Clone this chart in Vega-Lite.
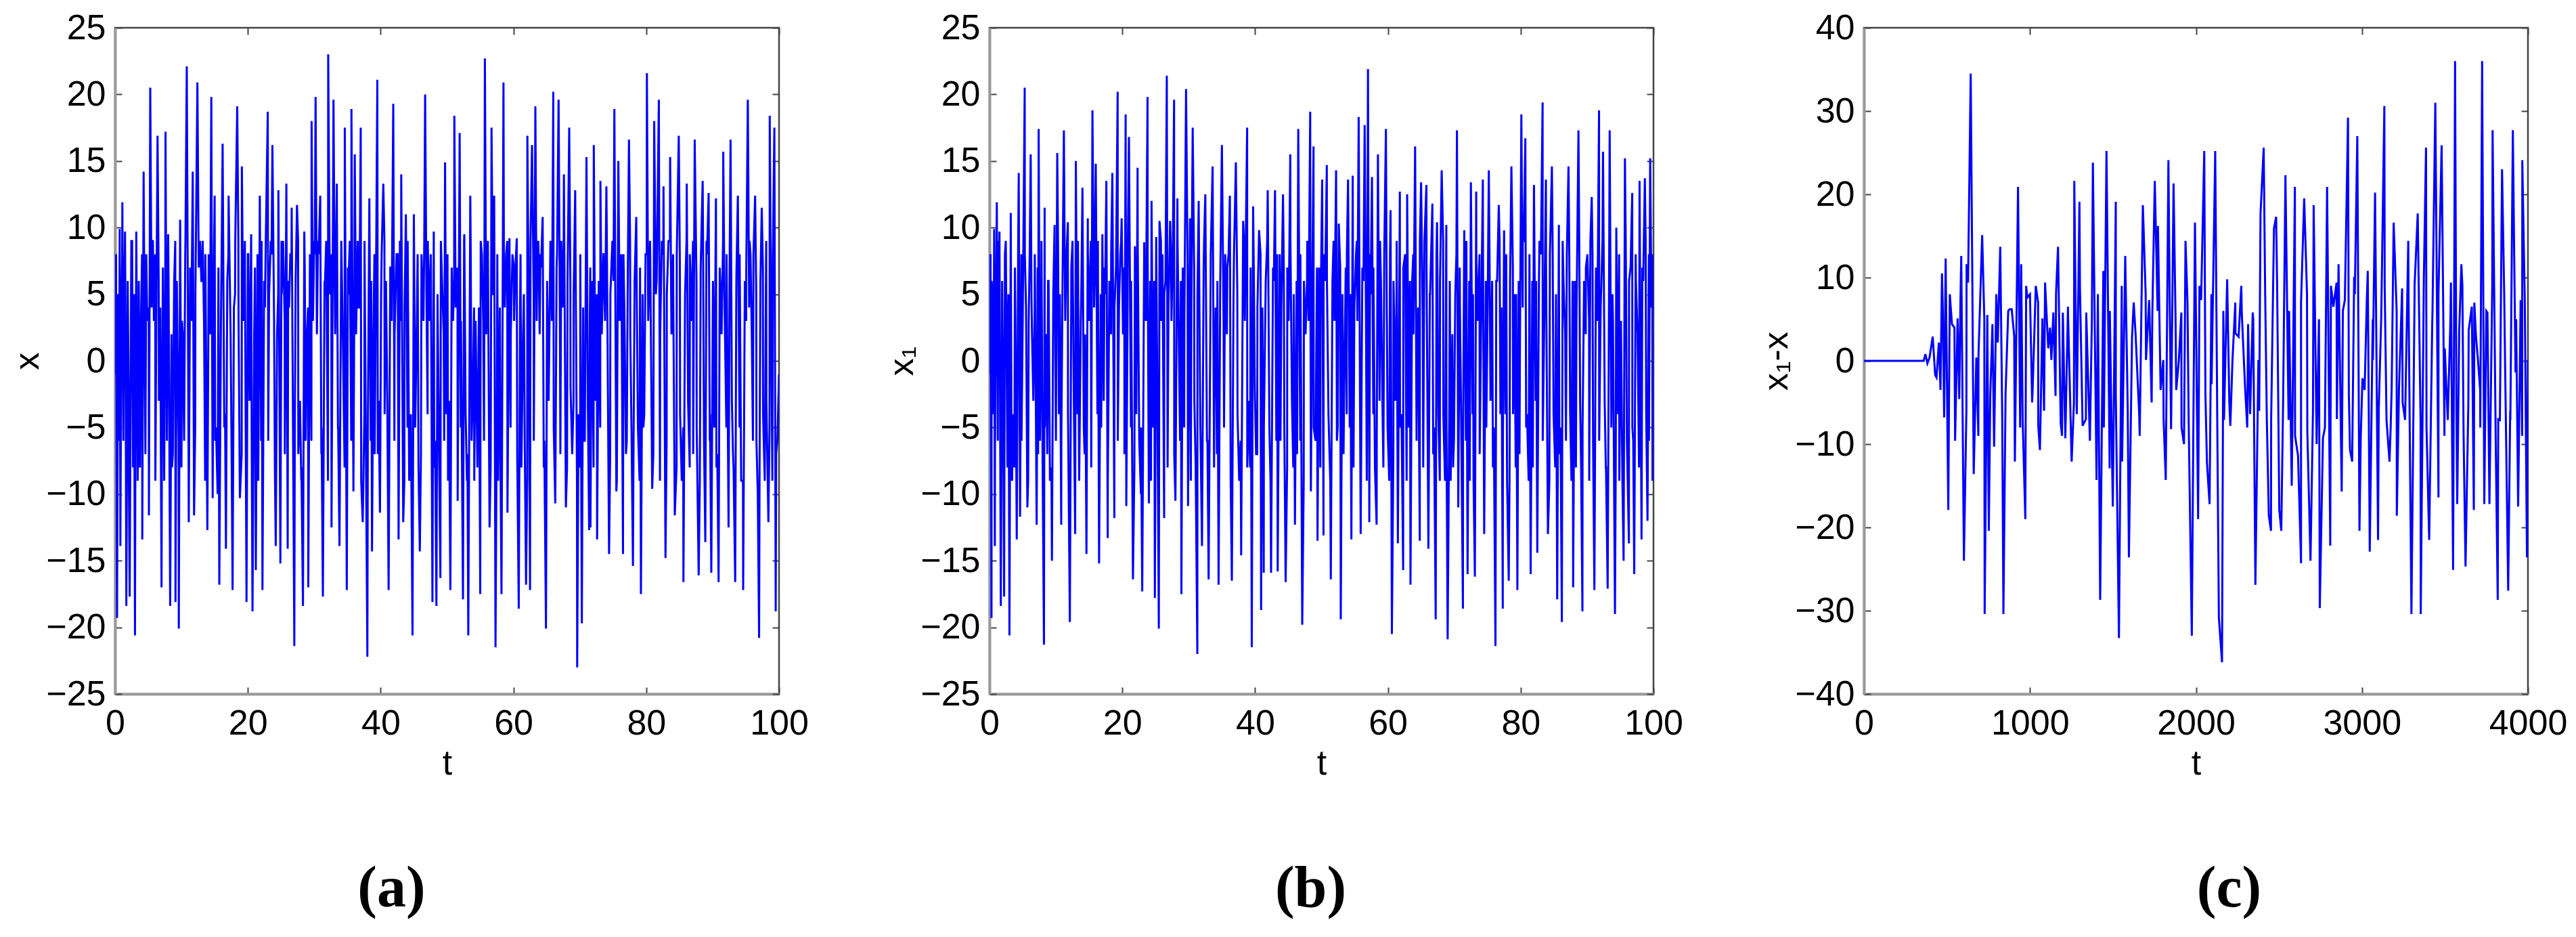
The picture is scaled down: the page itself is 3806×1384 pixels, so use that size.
{
"$schema":"https://vega.github.io/schema/vega-lite/v6.json",
"background":"white",
"padding":{"left":13,"top":13,"right":0,"bottom":0},
"spacing":311,
"bounds":"flush",
"config":{
 "view":{"stroke":"#444444","strokeWidth":2.5},
 "axis":{"grid":false,"labelFlush":false,"labelFont":"Liberation Sans","labelFontSize":52,"labelColor":"#000000","titleFont":"Liberation Sans","titleFontSize":52,"titleFontWeight":"normal","titleColor":"#000000","tickColor":"#444444","tickWidth":2,"tickSize":-10,"domainColor":"#999999","domainWidth":4},
 "title":{"font":"Liberation Serif","fontSize":86,"fontWeight":"bold","color":"#000000"}
},
"datasets":{
"a":[{"t":0,"v":-1},{"t":0.15,"v":8},{"t":0.3,"v":-19.3},{"t":0.45,"v":5},{"t":0.6,"v":-4},{"t":0.7,"v":9.9},{"t":0.8,"v":-13.9},{"t":0.95,"v":3},{"t":1.1,"v":11.9},{"t":1.25,"v":-6},{"t":1.35,"v":4},{"t":1.5,"v":9.7},{"t":1.7,"v":-18.4},{"t":1.9,"v":6},{"t":2.05,"v":-2},{"t":2.2,"v":-17.7},{"t":2.45,"v":9},{"t":2.7,"v":-8},{"t":2.85,"v":5},{"t":3,"v":-20.6},{"t":3.2,"v":9.7},{"t":3.4,"v":-9},{"t":3.55,"v":-4},{"t":3.75,"v":-8},{"t":3.9,"v":3},{"t":4.1,"v":-13.4},{"t":4.3,"v":14.2},{"t":4.5,"v":-2},{"t":4.7,"v":8},{"t":4.85,"v":3},{"t":5.1,"v":-11.6},{"t":5.3,"v":20.5},{"t":5.5,"v":4},{"t":5.7,"v":9},{"t":5.85,"v":3},{"t":6.05,"v":8},{"t":6.2,"v":2},{"t":6.4,"v":16.9},{"t":6.6,"v":-3},{"t":6.8,"v":4},{"t":7,"v":-17},{"t":7.2,"v":7},{"t":7.4,"v":-9},{"t":7.6,"v":17.2},{"t":7.8,"v":-6},{"t":8,"v":9.5},{"t":8.3,"v":-18.4},{"t":8.5,"v":2},{"t":8.7,"v":-7},{"t":8.9,"v":6},{"t":9.1,"v":-18.1},{"t":9.3,"v":6},{"t":9.6,"v":-20.1},{"t":9.8,"v":10.6},{"t":10,"v":-8},{"t":10.2,"v":2},{"t":10.4,"v":-6},{"t":10.6,"v":9},{"t":10.8,"v":22.1},{"t":11.1,"v":-12.1},{"t":11.3,"v":7},{"t":11.5,"v":3},{"t":11.7,"v":14.2},{"t":11.9,"v":-11.6},{"t":12.1,"v":5},{"t":12.4,"v":20.9},{"t":12.6,"v":7},{"t":12.8,"v":9},{"t":13,"v":6},{"t":13.2,"v":9},{"t":13.4,"v":3},{"t":13.6,"v":8},{"t":13.9,"v":-12.7},{"t":14.1,"v":8},{"t":14.3,"v":2},{"t":14.5,"v":19.8},{"t":14.7,"v":-10.3},{"t":14.85,"v":6},{"t":15,"v":12.4},{"t":15.2,"v":-5},{"t":15.45,"v":-10},{"t":15.7,"v":-16.8},{"t":15.95,"v":3},{"t":16.2,"v":16.3},{"t":16.45,"v":-5},{"t":16.7,"v":-14.1},{"t":16.9,"v":6},{"t":17.1,"v":12.4},{"t":17.4,"v":2},{"t":17.7,"v":-17.2},{"t":17.9,"v":4},{"t":18.1,"v":9},{"t":18.4,"v":19.1},{"t":18.6,"v":3},{"t":18.8,"v":-10.3},{"t":19.1,"v":14.6},{"t":19.3,"v":3},{"t":19.55,"v":9},{"t":19.8,"v":-18.1},{"t":20,"v":8},{"t":20.25,"v":-3},{"t":20.5,"v":9.5},{"t":20.7,"v":-18.8},{"t":20.95,"v":2},{"t":21.2,"v":-15.7},{"t":21.45,"v":8},{"t":21.8,"v":12.4},{"t":22,"v":-6},{"t":22.2,"v":-17.2},{"t":22.45,"v":6},{"t":22.7,"v":9},{"t":23,"v":18.7},{"t":23.2,"v":5},{"t":23.45,"v":9},{"t":23.7,"v":16.2},{"t":23.95,"v":3},{"t":24.2,"v":-13.9},{"t":24.4,"v":2},{"t":24.6,"v":12.8},{"t":24.9,"v":-15.2},{"t":25.1,"v":5},{"t":25.3,"v":9},{"t":25.55,"v":3},{"t":25.8,"v":13.3},{"t":26,"v":-14.1},{"t":26.2,"v":4},{"t":26.4,"v":8},{"t":26.6,"v":11.5},{"t":26.8,"v":-5},{"t":27,"v":-21.4},{"t":27.2,"v":6},{"t":27.4,"v":11.7},{"t":27.6,"v":-7},{"t":27.85,"v":-3},{"t":28.05,"v":-9},{"t":28.3,"v":-18.4},{"t":28.5,"v":9.7},{"t":28.7,"v":-6},{"t":28.9,"v":2},{"t":29.1,"v":-17},{"t":29.35,"v":8},{"t":29.6,"v":18},{"t":29.8,"v":3},{"t":30,"v":9},{"t":30.2,"v":19.8},{"t":30.4,"v":2},{"t":30.65,"v":8},{"t":30.9,"v":12.4},{"t":31.1,"v":-5},{"t":31.3,"v":-17.7},{"t":31.55,"v":6},{"t":31.8,"v":9},{"t":32.1,"v":23},{"t":32.35,"v":5},{"t":32.6,"v":-12.5},{"t":32.9,"v":19.6},{"t":33.15,"v":2},{"t":33.4,"v":13.3},{"t":33.6,"v":-5},{"t":33.8,"v":-13.9},{"t":34.05,"v":7},{"t":34.3,"v":2},{"t":34.6,"v":17.5},{"t":34.9,"v":-17.2},{"t":35.1,"v":5},{"t":35.35,"v":9},{"t":35.6,"v":18.9},{"t":35.9,"v":-9.8},{"t":36.1,"v":15.5},{"t":36.3,"v":2},{"t":36.55,"v":9},{"t":36.8,"v":4},{"t":37,"v":17.5},{"t":37.3,"v":-12.1},{"t":37.55,"v":-4},{"t":37.8,"v":-8},{"t":38,"v":-22.2},{"t":38.3,"v":12.2},{"t":38.5,"v":-6},{"t":38.7,"v":-14.3},{"t":38.9,"v":2},{"t":39.1,"v":-7},{"t":39.3,"v":6},{"t":39.5,"v":21.1},{"t":39.7,"v":-3},{"t":39.9,"v":-11.4},{"t":40.15,"v":8},{"t":40.4,"v":13.3},{"t":40.6,"v":-4},{"t":40.8,"v":6},{"t":41,"v":-3},{"t":41.2,"v":-17.2},{"t":41.45,"v":7},{"t":41.65,"v":3},{"t":41.9,"v":19.3},{"t":42.1,"v":2},{"t":42.4,"v":8},{"t":42.7,"v":-13.4},{"t":42.9,"v":9},{"t":43.1,"v":14},{"t":43.4,"v":-12.1},{"t":43.6,"v":4},{"t":43.8,"v":11},{"t":44.05,"v":-5},{"t":44.3,"v":-9},{"t":44.55,"v":-4},{"t":44.8,"v":-20.6},{"t":45,"v":11},{"t":45.2,"v":-5},{"t":45.45,"v":3},{"t":45.7,"v":-8},{"t":45.9,"v":-14.3},{"t":46.15,"v":8},{"t":46.45,"v":3},{"t":46.7,"v":20},{"t":46.9,"v":5},{"t":47.1,"v":9},{"t":47.3,"v":3},{"t":47.55,"v":8},{"t":47.8,"v":-18.1},{"t":48,"v":9.7},{"t":48.2,"v":-6},{"t":48.4,"v":-18.4},{"t":48.6,"v":3},{"t":48.8,"v":-7},{"t":49,"v":-16.3},{"t":49.25,"v":6},{"t":49.5,"v":2},{"t":49.7,"v":14.9},{"t":49.9,"v":-4},{"t":50.15,"v":-9},{"t":50.3,"v":-3},{"t":50.5,"v":-17.2},{"t":50.7,"v":7},{"t":50.9,"v":3},{"t":51.1,"v":18.4},{"t":51.3,"v":4},{"t":51.6,"v":-10.5},{"t":51.9,"v":17.1},{"t":52.1,"v":3},{"t":52.4,"v":-17.9},{"t":52.6,"v":9.5},{"t":52.8,"v":-4},{"t":53,"v":-9},{"t":53.2,"v":-20.6},{"t":53.5,"v":12.4},{"t":53.7,"v":-6},{"t":53.9,"v":-2},{"t":54.1,"v":-9},{"t":54.3,"v":3},{"t":54.55,"v":-7},{"t":54.8,"v":4},{"t":55,"v":-17.5},{"t":55.25,"v":8},{"t":55.45,"v":3},{"t":55.7,"v":22.7},{"t":55.9,"v":2},{"t":56.15,"v":9},{"t":56.4,"v":-12.5},{"t":56.7,"v":17.5},{"t":56.9,"v":5},{"t":57.1,"v":12.4},{"t":57.3,"v":-21.5},{"t":57.5,"v":-3},{"t":57.7,"v":-9},{"t":57.95,"v":4},{"t":58.2,"v":-17.5},{"t":58.5,"v":20.9},{"t":58.7,"v":4},{"t":58.9,"v":8},{"t":59.1,"v":-11.4},{"t":59.4,"v":9.2},{"t":59.6,"v":2},{"t":59.85,"v":8},{"t":60.1,"v":3},{"t":60.3,"v":7},{"t":60.5,"v":9.2},{"t":60.8,"v":-18.6},{"t":61,"v":4},{"t":61.2,"v":-8},{"t":61.45,"v":2},{"t":61.7,"v":-6},{"t":61.9,"v":-16.8},{"t":62.1,"v":16.9},{"t":62.3,"v":4},{"t":62.5,"v":-17.2},{"t":62.8,"v":16.2},{"t":63.05,"v":5},{"t":63.3,"v":19.1},{"t":63.5,"v":3},{"t":63.75,"v":9},{"t":63.95,"v":2},{"t":64.15,"v":7},{"t":64.4,"v":10.8},{"t":64.65,"v":-6},{"t":64.9,"v":-20.1},{"t":65.1,"v":5},{"t":65.3,"v":-3},{"t":65.55,"v":8},{"t":65.8,"v":3},{"t":66,"v":20.2},{"t":66.3,"v":-10.7},{"t":66.5,"v":7},{"t":66.8,"v":19.6},{"t":67,"v":3},{"t":67.2,"v":9},{"t":67.4,"v":4},{"t":67.6,"v":14},{"t":67.9,"v":-11},{"t":68.15,"v":6},{"t":68.4,"v":17.5},{"t":68.6,"v":-2},{"t":68.85,"v":-7},{"t":69.05,"v":-3},{"t":69.3,"v":12.8},{"t":69.6,"v":-23},{"t":69.8,"v":-4},{"t":70.05,"v":-8},{"t":70.3,"v":-19.7},{"t":70.5,"v":4},{"t":70.75,"v":-6},{"t":71,"v":15.3},{"t":71.2,"v":-3},{"t":71.4,"v":-12.7},{"t":71.5,"v":3},{"t":71.6,"v":-12.5},{"t":71.8,"v":6},{"t":72.1,"v":16.2},{"t":72.35,"v":-3},{"t":72.6,"v":-13.4},{"t":72.85,"v":6},{"t":73.1,"v":13.5},{"t":73.3,"v":2},{"t":73.55,"v":8},{"t":73.8,"v":3},{"t":74,"v":13.1},{"t":74.4,"v":-14.5},{"t":74.6,"v":5},{"t":74.9,"v":9},{"t":75.2,"v":18.9},{"t":75.5,"v":-9.8},{"t":75.8,"v":15},{"t":76,"v":3},{"t":76.25,"v":8},{"t":76.5,"v":-14.5},{"t":76.7,"v":4},{"t":76.95,"v":-7},{"t":77.2,"v":5},{"t":77.4,"v":16.6},{"t":77.6,"v":2},{"t":77.8,"v":-6},{"t":78,"v":-15.4},{"t":78.25,"v":6},{"t":78.5,"v":10.8},{"t":78.75,"v":-5},{"t":79,"v":-9},{"t":79.2,"v":-17.5},{"t":79.45,"v":5},{"t":79.7,"v":-4},{"t":79.9,"v":8},{"t":80.1,"v":21.6},{"t":80.3,"v":3},{"t":80.6,"v":8},{"t":80.9,"v":-9.6},{"t":81.2,"v":18},{"t":81.45,"v":5},{"t":81.65,"v":9},{"t":81.9,"v":19.6},{"t":82.1,"v":2},{"t":82.35,"v":9},{"t":82.6,"v":13.1},{"t":82.9,"v":-14.8},{"t":83.1,"v":5},{"t":83.35,"v":9},{"t":83.6,"v":15.3},{"t":83.8,"v":2},{"t":84.05,"v":8},{"t":84.3,"v":-11.6},{"t":84.6,"v":8},{"t":84.9,"v":16.9},{"t":85.1,"v":-4},{"t":85.35,"v":-9},{"t":85.6,"v":-16.6},{"t":85.85,"v":5},{"t":86.1,"v":13.3},{"t":86.3,"v":-3},{"t":86.55,"v":-8},{"t":86.8,"v":3},{"t":87.05,"v":9},{"t":87.3,"v":16.6},{"t":87.6,"v":-5},{"t":87.9,"v":-16.1},{"t":88.2,"v":7},{"t":88.5,"v":13.5},{"t":88.7,"v":-6},{"t":88.9,"v":-13.6},{"t":89.15,"v":8},{"t":89.4,"v":12.6},{"t":89.6,"v":-4},{"t":89.8,"v":-15.9},{"t":90.05,"v":6},{"t":90.25,"v":-5},{"t":90.5,"v":12.2},{"t":90.7,"v":-7},{"t":90.9,"v":-16.6},{"t":91.15,"v":6},{"t":91.35,"v":2},{"t":91.6,"v":15.7},{"t":91.8,"v":4},{"t":92.1,"v":8},{"t":92.4,"v":-12.5},{"t":92.7,"v":16.6},{"t":92.9,"v":-3},{"t":93.15,"v":-8},{"t":93.4,"v":-16.6},{"t":93.6,"v":7},{"t":93.8,"v":12.4},{"t":94.05,"v":-5},{"t":94.3,"v":-9},{"t":94.6,"v":-17.2},{"t":94.85,"v":6},{"t":95.05,"v":3},{"t":95.3,"v":19.6},{"t":95.5,"v":4},{"t":95.7,"v":8},{"t":95.9,"v":2},{"t":96.15,"v":8},{"t":96.4,"v":12.4},{"t":96.6,"v":-6},{"t":96.8,"v":-10},{"t":97,"v":-20.8},{"t":97.2,"v":6},{"t":97.4,"v":11.5},{"t":97.6,"v":-4},{"t":97.85,"v":-9},{"t":98.1,"v":-3},{"t":98.4,"v":-12.1},{"t":98.6,"v":18.4},{"t":98.8,"v":4},{"t":99,"v":-9},{"t":99.3,"v":17.5},{"t":99.5,"v":-18.8},{"t":99.75,"v":-6},{"t":100,"v":-1},
{"t":0.07,"v":7},{"t":0.57,"v":-6},{"t":1.07,"v":8},{"t":1.57,"v":3},{"t":2.07,"v":-8},{"t":2.57,"v":9},{"t":3.07,"v":-5},{"t":3.57,"v":6},{"t":4.07,"v":8},{"t":4.57,"v":-7},{"t":5.07,"v":4},{"t":5.57,"v":9},{"t":6.07,"v":-9},{"t":6.57,"v":6},{"t":7.07,"v":-4},{"t":7.57,"v":8},{"t":8.07,"v":5},{"t":8.57,"v":-8},{"t":9.07,"v":9},{"t":9.57,"v":-6},{"t":10.07,"v":3},{"t":10.57,"v":8},{"t":11.07,"v":-7},{"t":11.57,"v":7},{"t":12.07,"v":-5},{"t":12.57,"v":9},{"t":13.07,"v":6},{"t":13.57,"v":-9},{"t":14.07,"v":4},{"t":14.57,"v":8},{"t":15.07,"v":-6},{"t":15.57,"v":7},{"t":16.07,"v":9},{"t":16.57,"v":-4},{"t":17.07,"v":8},{"t":17.57,"v":-8},{"t":18.07,"v":5},{"t":18.57,"v":9},{"t":19.07,"v":-7},{"t":19.57,"v":6},{"t":20.07,"v":8},{"t":20.57,"v":-5},{"t":21.07,"v":7},{"t":21.57,"v":-9},{"t":22.07,"v":9},{"t":22.57,"v":4},{"t":23.07,"v":-6},{"t":23.57,"v":8},{"t":24.07,"v":-8},{"t":24.57,"v":5},{"t":25.07,"v":9},{"t":25.57,"v":-7},{"t":26.07,"v":6},{"t":26.57,"v":8},{"t":27.07,"v":-5},{"t":27.57,"v":9},{"t":28.07,"v":-8},{"t":28.57,"v":7},{"t":29.07,"v":4},{"t":29.57,"v":-6},{"t":30.07,"v":8},{"t":30.57,"v":9},{"t":31.07,"v":-7},{"t":31.57,"v":5},{"t":32.07,"v":-9},{"t":32.57,"v":8},{"t":33.07,"v":6},{"t":33.57,"v":-5},{"t":34.07,"v":9},{"t":34.57,"v":-8},{"t":35.07,"v":7},{"t":35.57,"v":-6},{"t":36.07,"v":8},{"t":36.57,"v":4},{"t":37.07,"v":-9},{"t":37.57,"v":9},{"t":38.07,"v":-5},{"t":38.57,"v":6},{"t":39.07,"v":8},{"t":39.57,"v":-7},{"t":40.07,"v":5},{"t":40.57,"v":9},{"t":41.07,"v":-8},{"t":41.57,"v":7},{"t":42.07,"v":-6},{"t":42.57,"v":8},{"t":43.07,"v":3},{"t":43.57,"v":-9},{"t":44.07,"v":9},{"t":44.57,"v":-5},{"t":45.07,"v":6},{"t":45.57,"v":8},{"t":46.07,"v":-7},{"t":46.57,"v":9},{"t":47.07,"v":-4},{"t":47.57,"v":7},{"t":48.07,"v":-8},{"t":48.57,"v":5},{"t":49.07,"v":9},{"t":49.57,"v":-6},{"t":50.07,"v":8},{"t":50.57,"v":-9},{"t":51.07,"v":6},{"t":51.57,"v":7},{"t":52.07,"v":-5},{"t":52.57,"v":9},{"t":53.07,"v":-7},{"t":53.57,"v":8},{"t":54.07,"v":4},{"t":54.57,"v":-8},{"t":55.07,"v":9},{"t":55.57,"v":-6},{"t":56.07,"v":7},{"t":56.57,"v":-8},{"t":57.07,"v":5},{"t":57.57,"v":8},{"t":58.07,"v":-9},{"t":58.57,"v":6},{"t":59.07,"v":9},{"t":59.57,"v":-5},{"t":60.07,"v":7},{"t":60.57,"v":-7},{"t":61.07,"v":8},{"t":61.57,"v":5},{"t":62.07,"v":-9},{"t":62.57,"v":9},{"t":63.07,"v":-6},{"t":63.57,"v":7},{"t":64.07,"v":8},{"t":64.57,"v":-8},{"t":65.07,"v":6},{"t":65.57,"v":9},{"t":66.07,"v":-5},{"t":66.57,"v":8},{"t":67.07,"v":-7},{"t":67.57,"v":9},{"t":68.07,"v":-8},{"t":68.57,"v":6},{"t":69.07,"v":5},{"t":69.57,"v":-9},{"t":70.07,"v":8},{"t":70.57,"v":-6},{"t":71.07,"v":9},{"t":71.57,"v":7},{"t":72.07,"v":-8},{"t":72.57,"v":5},{"t":73.07,"v":-5},{"t":73.57,"v":8},{"t":74.07,"v":9},{"t":74.57,"v":-7},{"t":75.07,"v":6},{"t":75.57,"v":-9},{"t":76.07,"v":7},{"t":76.57,"v":8},{"t":77.07,"v":-6},{"t":77.57,"v":9},{"t":78.07,"v":-8},{"t":78.57,"v":5},{"t":79.07,"v":7},{"t":79.57,"v":-5},{"t":80.07,"v":8},{"t":80.57,"v":9},{"t":81.07,"v":-7},{"t":81.57,"v":6},{"t":82.07,"v":-9},{"t":82.57,"v":8},{"t":83.07,"v":-6},{"t":83.57,"v":9},{"t":84.07,"v":5},{"t":84.57,"v":-8},{"t":85.07,"v":7},{"t":85.57,"v":-5},{"t":86.07,"v":9},{"t":86.57,"v":8},{"t":87.07,"v":-7},{"t":87.57,"v":6},{"t":88.07,"v":-9},{"t":88.57,"v":8},{"t":89.07,"v":9},{"t":89.57,"v":-6},{"t":90.07,"v":5},{"t":90.57,"v":-8},{"t":91.07,"v":7},{"t":91.57,"v":9},{"t":92.07,"v":-5},{"t":92.57,"v":8},{"t":93.07,"v":-7},{"t":93.57,"v":6},{"t":94.07,"v":8},{"t":94.57,"v":-9},{"t":95.07,"v":7},{"t":95.57,"v":9},{"t":96.07,"v":-6},{"t":96.57,"v":5},{"t":97.07,"v":-8},{"t":97.57,"v":7},{"t":98.07,"v":9},{"t":98.57,"v":-5},{"t":99.07,"v":8},{"t":99.57,"v":-7}],
"b":[{"t":0,"v":-1},{"t":0.15,"v":8},{"t":0.3,"v":-19.3},{"t":0.45,"v":5},{"t":0.6,"v":-4},{"t":0.7,"v":9.9},{"t":0.8,"v":-13.9},{"t":0.95,"v":3},{"t":1.1,"v":11.9},{"t":1.25,"v":-6},{"t":1.35,"v":4},{"t":1.5,"v":9.7},{"t":1.7,"v":-18.4},{"t":1.9,"v":6},{"t":2.05,"v":-2},{"t":2.2,"v":-17.7},{"t":2.45,"v":9},{"t":2.7,"v":-8},{"t":2.85,"v":5},{"t":3,"v":-20.6},{"t":3.2,"v":11.1},{"t":3.4,"v":-9},{"t":3.55,"v":-4},{"t":3.75,"v":-8},{"t":3.9,"v":3},{"t":4.1,"v":-13.4},{"t":4.4,"v":14.1},{"t":4.6,"v":-11.7},{"t":4.8,"v":8},{"t":5,"v":3},{"t":5.3,"v":20.5},{"t":5.5,"v":4},{"t":5.7,"v":-11},{"t":5.9,"v":3},{"t":6.05,"v":8},{"t":6.2,"v":15.5},{"t":6.4,"v":2},{"t":6.6,"v":-3},{"t":6.8,"v":4},{"t":7.1,"v":-12.3},{"t":7.25,"v":7},{"t":7.4,"v":17.4},{"t":7.6,"v":-6},{"t":7.8,"v":4},{"t":8,"v":-8},{"t":8.2,"v":-21.3},{"t":8.3,"v":11.5},{"t":8.5,"v":2},{"t":8.7,"v":-7},{"t":8.9,"v":6},{"t":9.1,"v":-9},{"t":9.4,"v":-15},{"t":9.6,"v":5},{"t":9.8,"v":10.2},{"t":10,"v":-6},{"t":10.2,"v":15.6},{"t":10.45,"v":-4},{"t":10.6,"v":5},{"t":10.8,"v":-12.3},{"t":11,"v":6},{"t":11.2,"v":17.3},{"t":11.4,"v":3},{"t":11.6,"v":8},{"t":11.8,"v":10.4},{"t":12.1,"v":-19.6},{"t":12.3,"v":4},{"t":12.5,"v":9},{"t":12.7,"v":-3},{"t":12.9,"v":-13},{"t":13,"v":15},{"t":13.25,"v":-4},{"t":13.5,"v":-9},{"t":13.75,"v":3},{"t":14,"v":13},{"t":14.2,"v":-5},{"t":14.4,"v":2},{"t":14.6,"v":-14.5},{"t":14.8,"v":10.7},{"t":15,"v":3},{"t":15.25,"v":9},{"t":15.5,"v":18.8},{"t":15.75,"v":4},{"t":16,"v":14.8},{"t":16.25,"v":-4},{"t":16.5,"v":-15.2},{"t":16.75,"v":5},{"t":17,"v":9.5},{"t":17.2,"v":-3},{"t":17.4,"v":5},{"t":17.6,"v":13.5},{"t":17.8,"v":-13.3},{"t":18.05,"v":6},{"t":18.3,"v":2},{"t":18.5,"v":14.1},{"t":18.8,"v":-11.8},{"t":19.05,"v":7},{"t":19.3,"v":20.2},{"t":19.5,"v":4},{"t":19.7,"v":8},{"t":19.9,"v":10.7},{"t":20.1,"v":2},{"t":20.3,"v":7},{"t":20.5,"v":18.5},{"t":20.6,"v":-10.9},{"t":20.8,"v":4},{"t":21,"v":16.8},{"t":21.3,"v":-5},{"t":21.6,"v":-16.4},{"t":21.9,"v":8.6},{"t":22.1,"v":-4},{"t":22.3,"v":14.5},{"t":22.55,"v":-6},{"t":22.8,"v":-10},{"t":23,"v":-17.3},{"t":23.3,"v":8.9},{"t":23.55,"v":3},{"t":23.8,"v":19.8},{"t":24,"v":-10.7},{"t":24.2,"v":6},{"t":24.4,"v":12},{"t":24.65,"v":-5},{"t":24.9,"v":-17.8},{"t":25.1,"v":9.3},{"t":25.3,"v":-4},{"t":25.5,"v":-20.1},{"t":25.6,"v":10.5},{"t":25.85,"v":3},{"t":26.05,"v":8},{"t":26.3,"v":-11.8},{"t":26.5,"v":6},{"t":26.7,"v":21.4},{"t":26.95,"v":4},{"t":27.2,"v":10.5},{"t":27.4,"v":3},{"t":27.6,"v":8},{"t":27.8,"v":19.6},{"t":28,"v":-10.5},{"t":28.3,"v":12.2},{"t":28.5,"v":2},{"t":28.7,"v":-6},{"t":28.9,"v":-17.5},{"t":29.1,"v":7},{"t":29.35,"v":3},{"t":29.6,"v":20.4},{"t":29.9,"v":-10.9},{"t":30.2,"v":10.7},{"t":30.4,"v":4},{"t":30.6,"v":17.5},{"t":30.85,"v":-3},{"t":31.05,"v":-8},{"t":31.3,"v":-22},{"t":31.5,"v":12},{"t":31.75,"v":-5},{"t":32,"v":-13.9},{"t":32.25,"v":7},{"t":32.5,"v":12.5},{"t":32.75,"v":-6},{"t":33,"v":-16.4},{"t":33.3,"v":6},{"t":33.6,"v":14.6},{"t":33.85,"v":-3},{"t":34.05,"v":4},{"t":34.25,"v":-7},{"t":34.5,"v":-16.8},{"t":34.75,"v":6},{"t":35,"v":16.2},{"t":35.25,"v":3},{"t":35.5,"v":8},{"t":35.75,"v":2},{"t":36,"v":8},{"t":36.2,"v":12.4},{"t":36.5,"v":-16.5},{"t":36.75,"v":5},{"t":37.1,"v":14.9},{"t":37.35,"v":-4},{"t":37.6,"v":-9},{"t":37.9,"v":-14.6},{"t":38.2,"v":10.5},{"t":38.45,"v":3},{"t":38.8,"v":17.5},{"t":39.05,"v":-3},{"t":39.25,"v":-8},{"t":39.5,"v":-21.5},{"t":39.7,"v":11.6},{"t":39.95,"v":-2},{"t":40.15,"v":-7},{"t":40.35,"v":4},{"t":40.6,"v":9.8},{"t":40.9,"v":-18.7},{"t":41.1,"v":4},{"t":41.3,"v":-15.9},{"t":41.6,"v":6},{"t":41.9,"v":12.8},{"t":42.15,"v":-5},{"t":42.4,"v":-15.9},{"t":42.7,"v":7},{"t":43,"v":12.8},{"t":43.2,"v":-6},{"t":43.4,"v":-15.8},{"t":43.7,"v":8},{"t":43.95,"v":4},{"t":44.2,"v":12.5},{"t":44.4,"v":-5},{"t":44.6,"v":-16.6},{"t":44.85,"v":7},{"t":45.05,"v":3},{"t":45.3,"v":15.5},{"t":45.55,"v":-3},{"t":45.75,"v":-8},{"t":46,"v":-12.3},{"t":46.25,"v":6},{"t":46.5,"v":17.4},{"t":46.8,"v":-6},{"t":47.1,"v":-19.8},{"t":47.35,"v":6},{"t":47.6,"v":2},{"t":47.85,"v":9},{"t":48.05,"v":3},{"t":48.3,"v":18.7},{"t":48.4,"v":-9.8},{"t":48.6,"v":5},{"t":48.8,"v":16.1},{"t":49.1,"v":-6},{"t":49.4,"v":-13.5},{"t":49.65,"v":7},{"t":49.85,"v":3},{"t":50.1,"v":13.6},{"t":50.3,"v":-13.1},{"t":50.55,"v":6},{"t":50.8,"v":14.7},{"t":51.05,"v":-4},{"t":51.4,"v":-16.4},{"t":51.65,"v":6},{"t":51.95,"v":3},{"t":52.2,"v":14.3},{"t":52.45,"v":-5},{"t":52.6,"v":10.3},{"t":52.9,"v":-19.4},{"t":53.15,"v":5},{"t":53.4,"v":-3},{"t":53.65,"v":7},{"t":53.8,"v":-4},{"t":54,"v":13.6},{"t":54.25,"v":-5},{"t":54.5,"v":-13.4},{"t":54.7,"v":13.9},{"t":54.95,"v":4},{"t":55.2,"v":8},{"t":55.4,"v":3},{"t":55.6,"v":18.3},{"t":55.9,"v":-13},{"t":56.15,"v":7},{"t":56.5,"v":17.7},{"t":56.7,"v":3},{"t":57,"v":21.9},{"t":57.2,"v":-12.1},{"t":57.4,"v":5},{"t":57.6,"v":13.8},{"t":57.8,"v":-4},{"t":58.05,"v":-8},{"t":58.3,"v":-12.3},{"t":58.5,"v":15.5},{"t":58.75,"v":-3},{"t":58.95,"v":6},{"t":59.2,"v":-4},{"t":59.45,"v":8},{"t":59.7,"v":17.4},{"t":59.95,"v":-5},{"t":60.2,"v":-9},{"t":60.4,"v":11.3},{"t":60.6,"v":-20.5},{"t":60.85,"v":6},{"t":61.1,"v":-3},{"t":61.3,"v":5},{"t":61.5,"v":-13.7},{"t":61.8,"v":12.7},{"t":62.05,"v":-4},{"t":62.3,"v":-15.7},{"t":62.6,"v":8},{"t":62.9,"v":12.5},{"t":63.15,"v":-5},{"t":63.4,"v":-16.8},{"t":63.65,"v":6},{"t":63.85,"v":2},{"t":64.1,"v":16.1},{"t":64.35,"v":-3},{"t":64.55,"v":4},{"t":64.8,"v":-13.5},{"t":65,"v":13.4},{"t":65.25,"v":3},{"t":65.5,"v":9},{"t":65.8,"v":13.2},{"t":66.1,"v":-14.1},{"t":66.35,"v":5},{"t":66.7,"v":11.8},{"t":66.95,"v":-5},{"t":67.2,"v":-19.4},{"t":67.4,"v":10.4},{"t":67.6,"v":-4},{"t":67.85,"v":6},{"t":68.1,"v":14.3},{"t":68.35,"v":-4},{"t":68.6,"v":-9},{"t":68.8,"v":10.2},{"t":69,"v":-20.9},{"t":69.25,"v":-3},{"t":69.45,"v":-9},{"t":69.7,"v":2},{"t":69.95,"v":-6},{"t":70.15,"v":5},{"t":70.4,"v":17.3},{"t":70.6,"v":-11},{"t":70.85,"v":4},{"t":71.05,"v":-5},{"t":71.3,"v":-18.6},{"t":71.5,"v":9.8},{"t":71.75,"v":-6},{"t":72,"v":-16},{"t":72.25,"v":6},{"t":72.5,"v":13.4},{"t":72.75,"v":-4},{"t":72.9,"v":-9},{"t":73.1,"v":-16.2},{"t":73.3,"v":12.7},{"t":73.55,"v":3},{"t":73.8,"v":8},{"t":74.05,"v":3},{"t":74.3,"v":13.6},{"t":74.5,"v":-13},{"t":74.75,"v":6},{"t":75,"v":3},{"t":75.2,"v":14.3},{"t":75.45,"v":-3},{"t":75.7,"v":6},{"t":75.95,"v":-5},{"t":76.2,"v":-21.4},{"t":76.45,"v":6},{"t":76.7,"v":11.7},{"t":76.95,"v":-4},{"t":77.1,"v":4},{"t":77.3,"v":-18.6},{"t":77.5,"v":9.8},{"t":77.7,"v":-4},{"t":77.95,"v":-9},{"t":78.2,"v":-16.5},{"t":78.4,"v":6},{"t":78.6,"v":14.6},{"t":78.85,"v":-4},{"t":79.05,"v":5},{"t":79.25,"v":-8},{"t":79.5,"v":-17.2},{"t":79.7,"v":6},{"t":79.9,"v":2},{"t":80.1,"v":18.5},{"t":80.3,"v":4},{"t":80.45,"v":9},{"t":80.7,"v":16.7},{"t":80.95,"v":-4},{"t":81.2,"v":-9},{"t":81.5,"v":-16},{"t":81.75,"v":6},{"t":82,"v":13.2},{"t":82.25,"v":-3},{"t":82.5,"v":-14.4},{"t":82.75,"v":6},{"t":83.05,"v":8},{"t":83.3,"v":19.4},{"t":83.55,"v":3},{"t":83.8,"v":13.6},{"t":84.1,"v":-13},{"t":84.4,"v":8},{"t":84.7,"v":14.6},{"t":84.95,"v":-4},{"t":85.2,"v":-8},{"t":85.5,"v":-17.9},{"t":85.75,"v":10.2},{"t":86,"v":-5},{"t":86.2,"v":-19.6},{"t":86.45,"v":6},{"t":86.7,"v":2},{"t":86.95,"v":8},{"t":87.2,"v":14.6},{"t":87.45,"v":-4},{"t":87.65,"v":-9},{"t":87.9,"v":-17},{"t":88.15,"v":6},{"t":88.4,"v":3},{"t":88.7,"v":17.3},{"t":88.95,"v":-3},{"t":89.1,"v":-8},{"t":89.3,"v":-18.8},{"t":89.55,"v":6},{"t":89.8,"v":2},{"t":90.05,"v":8},{"t":90.3,"v":3},{"t":90.5,"v":9},{"t":90.7,"v":12.3},{"t":90.9,"v":-6},{"t":91.1,"v":-17.2},{"t":91.35,"v":7},{"t":91.55,"v":3},{"t":91.8,"v":18.8},{"t":92.05,"v":4},{"t":92.4,"v":15.7},{"t":92.65,"v":-3},{"t":92.85,"v":-8},{"t":93.1,"v":-17.1},{"t":93.4,"v":17.3},{"t":93.65,"v":-5},{"t":93.9,"v":3},{"t":94.2,"v":-19},{"t":94.4,"v":10},{"t":94.65,"v":-4},{"t":94.85,"v":-9},{"t":95.1,"v":3},{"t":95.3,"v":-8},{"t":95.5,"v":-15},{"t":95.7,"v":15.2},{"t":96,"v":-6},{"t":96.3,"v":-13.7},{"t":96.55,"v":7},{"t":96.8,"v":12.6},{"t":96.95,"v":-6},{"t":97.1,"v":-16},{"t":97.35,"v":6},{"t":97.6,"v":2},{"t":97.9,"v":13.5},{"t":98.2,"v":-13.4},{"t":98.45,"v":6},{"t":98.7,"v":13.7},{"t":98.9,"v":-4},{"t":99.1,"v":-12},{"t":99.3,"v":8},{"t":99.5,"v":15.2},{"t":99.7,"v":4},{"t":99.85,"v":-9},{"t":100,"v":2},
{"t":0.32,"v":6},{"t":0.82,"v":-7},{"t":1.32,"v":9},{"t":1.82,"v":-5},{"t":2.32,"v":8},{"t":2.82,"v":4},{"t":3.32,"v":-8},{"t":3.82,"v":7},{"t":4.32,"v":9},{"t":4.82,"v":-6},{"t":5.32,"v":8},{"t":5.82,"v":-9},{"t":6.32,"v":5},{"t":6.82,"v":8},{"t":7.32,"v":-7},{"t":7.82,"v":9},{"t":8.32,"v":-5},{"t":8.82,"v":6},{"t":9.32,"v":-8},{"t":9.82,"v":7},{"t":10.32,"v":9},{"t":10.82,"v":-6},{"t":11.32,"v":8},{"t":11.82,"v":-4},{"t":12.32,"v":7},{"t":12.82,"v":-9},{"t":13.32,"v":9},{"t":13.82,"v":5},{"t":14.32,"v":-7},{"t":14.82,"v":8},{"t":15.32,"v":-8},{"t":15.82,"v":6},{"t":16.32,"v":9},{"t":16.82,"v":-5},{"t":17.32,"v":7},{"t":17.82,"v":-9},{"t":18.32,"v":8},{"t":18.82,"v":4},{"t":19.32,"v":-6},{"t":19.82,"v":9},{"t":20.32,"v":-7},{"t":20.82,"v":8},{"t":21.32,"v":6},{"t":21.82,"v":-8},{"t":22.32,"v":9},{"t":22.82,"v":-5},{"t":23.32,"v":7},{"t":23.82,"v":8},{"t":24.32,"v":-9},{"t":24.82,"v":6},{"t":25.32,"v":-6},{"t":25.82,"v":9},{"t":26.32,"v":5},{"t":26.82,"v":-8},{"t":27.32,"v":8},{"t":27.82,"v":-7},{"t":28.32,"v":9},{"t":28.82,"v":6},{"t":29.32,"v":-5},{"t":29.82,"v":8},{"t":30.32,"v":-9},{"t":30.82,"v":7},{"t":31.32,"v":5},{"t":31.82,"v":-7},{"t":32.32,"v":9},{"t":32.82,"v":-6},{"t":33.32,"v":8},{"t":33.82,"v":-8},{"t":34.32,"v":6},{"t":34.82,"v":9},{"t":35.32,"v":-5},{"t":35.82,"v":7},{"t":36.32,"v":-9},{"t":36.82,"v":8},{"t":37.32,"v":5},{"t":37.82,"v":-6},{"t":38.32,"v":9},{"t":38.82,"v":-8},{"t":39.32,"v":7},{"t":39.82,"v":6},{"t":40.32,"v":-7},{"t":40.82,"v":8},{"t":41.32,"v":-5},{"t":41.82,"v":9},{"t":42.32,"v":-9},{"t":42.82,"v":6},{"t":43.32,"v":8},{"t":43.82,"v":-6},{"t":44.32,"v":7},{"t":44.82,"v":-8},{"t":45.32,"v":9},{"t":45.82,"v":5},{"t":46.32,"v":-7},{"t":46.82,"v":8},{"t":47.32,"v":-9},{"t":47.82,"v":6},{"t":48.32,"v":9},{"t":48.82,"v":-5},{"t":49.32,"v":7},{"t":49.82,"v":-8},{"t":50.32,"v":8},{"t":50.82,"v":6},{"t":51.32,"v":-9},{"t":51.82,"v":9},{"t":52.32,"v":-6},{"t":52.82,"v":7},{"t":53.32,"v":-7},{"t":53.82,"v":8},{"t":54.32,"v":5},{"t":54.82,"v":-8},{"t":55.32,"v":9},{"t":55.82,"v":-5},{"t":56.32,"v":6},{"t":56.82,"v":-9},{"t":57.32,"v":8},{"t":57.82,"v":7},{"t":58.32,"v":-6},{"t":58.82,"v":9},{"t":59.32,"v":-8},{"t":59.82,"v":5},{"t":60.32,"v":8},{"t":60.82,"v":-7},{"t":61.32,"v":9},{"t":61.82,"v":-5},{"t":62.32,"v":7},{"t":62.82,"v":-9},{"t":63.32,"v":6},{"t":63.82,"v":8},{"t":64.32,"v":-6},{"t":64.82,"v":9},{"t":65.32,"v":-8},{"t":65.82,"v":7},{"t":66.32,"v":5},{"t":66.82,"v":-7},{"t":67.32,"v":8},{"t":67.82,"v":-9},{"t":68.32,"v":9},{"t":68.82,"v":-5},{"t":69.32,"v":6},{"t":69.82,"v":-8},{"t":70.32,"v":8},{"t":70.82,"v":7},{"t":71.32,"v":-6},{"t":71.82,"v":9},{"t":72.32,"v":-9},{"t":72.82,"v":5},{"t":73.32,"v":8},{"t":73.82,"v":-7},{"t":74.32,"v":9},{"t":74.82,"v":-5},{"t":75.32,"v":7},{"t":75.82,"v":-8},{"t":76.32,"v":6},{"t":76.82,"v":9},{"t":77.32,"v":-6},{"t":77.82,"v":8},{"t":78.32,"v":-9},{"t":78.82,"v":7},{"t":79.32,"v":5},{"t":79.82,"v":-7},{"t":80.32,"v":9},{"t":80.82,"v":-5},{"t":81.32,"v":8},{"t":81.82,"v":-8},{"t":82.32,"v":6},{"t":82.82,"v":9},{"t":83.32,"v":-6},{"t":83.82,"v":7},{"t":84.32,"v":-9},{"t":84.82,"v":8},{"t":85.32,"v":5},{"t":85.82,"v":-7},{"t":86.32,"v":9},{"t":86.82,"v":-6},{"t":87.32,"v":8},{"t":87.82,"v":6},{"t":88.32,"v":-8},{"t":88.82,"v":9},{"t":89.32,"v":-5},{"t":89.82,"v":7},{"t":90.32,"v":-9},{"t":90.82,"v":8},{"t":91.32,"v":6},{"t":91.82,"v":-6},{"t":92.32,"v":9},{"t":92.82,"v":-8},{"t":93.32,"v":7},{"t":93.82,"v":5},{"t":94.32,"v":-7},{"t":94.82,"v":8},{"t":95.32,"v":-9},{"t":95.82,"v":9},{"t":96.32,"v":6},{"t":96.82,"v":-5},{"t":97.32,"v":8},{"t":97.82,"v":-8},{"t":98.32,"v":7},{"t":98.82,"v":9},{"t":99.32,"v":-6},{"t":99.82,"v":8}],
"c":[{"t":0,"v":0},{"t":360,"v":0},{"t":370,"v":0.8},{"t":382,"v":-0.3},{"t":395,"v":0.4},{"t":414,"v":2.9},{"t":429,"v":-1.7},{"t":451,"v":2.2},{"t":461,"v":-3.5},{"t":470,"v":10.5},{"t":483,"v":-6.8},{"t":492,"v":12.3},{"t":508,"v":-17.9},{"t":517,"v":8},{"t":530,"v":4.4},{"t":549,"v":-9.6},{"t":564,"v":5.1},{"t":574,"v":-4.6},{"t":586,"v":12.6},{"t":602,"v":-24},{"t":618,"v":11.6},{"t":627,"v":9.4},{"t":643,"v":34.5},{"t":661,"v":-13.6},{"t":677,"v":0.4},{"t":690,"v":0.8},{"t":712,"v":15.1},{"t":727,"v":-30.4},{"t":743,"v":5.5},{"t":752,"v":-20.4},{"t":774,"v":4.4},{"t":784,"v":-10.3},{"t":806,"v":2.2},{"t":821,"v":13.7},{"t":840,"v":-30.4},{"t":853,"v":-3.9},{"t":878,"v":6.2},{"t":890,"v":6.2},{"t":909,"v":-12.1},{"t":928,"v":20.9},{"t":947,"v":11.6},{"t":956,"v":-7.1},{"t":972,"v":-19},{"t":984,"v":7.6},{"t":1000,"v":8},{"t":1016,"v":-3.5},{"t":1035,"v":9},{"t":1050,"v":-7.8},{"t":1060,"v":-10.7},{"t":1075,"v":5.1},{"t":1091,"v":9.4},{"t":1110,"v":1.5},{"t":1129,"v":0.1},{"t":1141,"v":5.8},{"t":1154,"v":-4.2},{"t":1169,"v":13.7},{"t":1185,"v":-7.5},{"t":1198,"v":5.8},{"t":1213,"v":-9.3},{"t":1229,"v":6.5},{"t":1251,"v":-12.1},{"t":1267,"v":21.6},{"t":1282,"v":-6.4},{"t":1298,"v":19.1},{"t":1317,"v":-7.8},{"t":1339,"v":5.8},{"t":1361,"v":-9.6},{"t":1379,"v":23.8},{"t":1401,"v":-14.3},{"t":1423,"v":-28.7},{"t":1442,"v":10.8},{"t":1461,"v":25.2},{"t":1480,"v":-12.9},{"t":1499,"v":-17.5},{"t":1517,"v":19.1},{"t":1536,"v":-33.3},{"t":1555,"v":-12.1},{"t":1574,"v":12.6},{"t":1596,"v":-23.6},{"t":1615,"v":2.9},{"t":1636,"v":3.3},{"t":1658,"v":-6.4},{"t":1680,"v":18.7},{"t":1699,"v":0.1},{"t":1718,"v":7.3},{"t":1737,"v":5.5},{"t":1752,"v":21.6},{"t":1771,"v":16.2},{"t":1787,"v":-3.5},{"t":1803,"v":0.1},{"t":1818,"v":-14.3},{"t":1834,"v":24.1},{"t":1850,"v":-8.2},{"t":1865,"v":21.3},{"t":1881,"v":-3.5},{"t":1897,"v":0.1},{"t":1912,"v":5.8},{"t":1928,"v":-10},{"t":1937,"v":14.4},{"t":1956,"v":-7.1},{"t":1975,"v":-33},{"t":1994,"v":16.6},{"t":2013,"v":-19},{"t":2031,"v":7.3},{"t":2050,"v":25.2},{"t":2066,"v":-12.1},{"t":2082,"v":-17.2},{"t":2094,"v":-2.8},{"t":2116,"v":25.2},{"t":2138,"v":-30.8},{"t":2157,"v":-36.2},{"t":2169,"v":-7.1},{"t":2188,"v":9.8},{"t":2207,"v":-7.8},{"t":2220,"v":0.1},{"t":2238,"v":3.3},{"t":2257,"v":2.9},{"t":2276,"v":5.8},{"t":2295,"v":-2.8},{"t":2314,"v":4.4},{"t":2326,"v":-6.4},{"t":2342,"v":5.8},{"t":2358,"v":-26.9},{"t":2376,"v":0.1},{"t":2389,"v":17.7},{"t":2408,"v":25.6},{"t":2427,"v":-7.1},{"t":2439,"v":-18.6},{"t":2452,"v":-20.4},{"t":2470,"v":15.9},{"t":2483,"v":17.3},{"t":2502,"v":-17.9},{"t":2514,"v":-20.4},{"t":2539,"v":22.3},{"t":2558,"v":-7.1},{"t":2577,"v":-15},{"t":2596,"v":20.9},{"t":2615,"v":-11.4},{"t":2633,"v":-24.3},{"t":2652,"v":19.5},{"t":2671,"v":-8.5},{"t":2690,"v":-24},{"t":2709,"v":18.7},{"t":2727,"v":-10},{"t":2746,"v":-29.7},{"t":2765,"v":-9.3},{"t":2790,"v":20.9},{"t":2809,"v":-22.2},{"t":2828,"v":6.5},{"t":2847,"v":9.4},{"t":2859,"v":11.6},{"t":2878,"v":-15.7},{"t":2897,"v":7.3},{"t":2916,"v":29.2},{"t":2928,"v":-10.7},{"t":2941,"v":-12.1},{"t":2953,"v":10.1},{"t":2972,"v":27},{"t":2985,"v":-20.4},{"t":3003,"v":-2.1},{"t":3016,"v":-3.5},{"t":3035,"v":10.8},{"t":3047,"v":-22.9},{"t":3066,"v":0.1},{"t":3079,"v":20.2},{"t":3097,"v":-21.5},{"t":3116,"v":5.1},{"t":3135,"v":30.6},{"t":3148,"v":-7.1},{"t":3166,"v":-12.1},{"t":3179,"v":-3.2},{"t":3191,"v":16.6},{"t":3210,"v":-18.6},{"t":3223,"v":-3.5},{"t":3242,"v":8.7},{"t":3260,"v":-7.1},{"t":3279,"v":14.4},{"t":3298,"v":-30.4},{"t":3317,"v":8},{"t":3336,"v":17.7},{"t":3354,"v":-30.4},{"t":3373,"v":10.1},{"t":3386,"v":25.6},{"t":3405,"v":-21.5},{"t":3423,"v":4},{"t":3442,"v":31},{"t":3461,"v":-16.4},{"t":3480,"v":25.9},{"t":3499,"v":1.5},{"t":3517,"v":-7.1},{"t":3536,"v":9.4},{"t":3549,"v":-25.1},{"t":3561,"v":36},{"t":3574,"v":-17.2},{"t":3586,"v":3.7},{"t":3599,"v":11.6},{"t":3612,"v":-8.5},{"t":3624,"v":-24.7},{"t":3643,"v":3.7},{"t":3662,"v":6.5},{"t":3674,"v":-17.9},{"t":3687,"v":2.9},{"t":3699,"v":0.1},{"t":3712,"v":-3.5},{"t":3724,"v":36},{"t":3737,"v":-17.2},{"t":3756,"v":5.8},{"t":3768,"v":-17.2},{"t":3787,"v":27.7},{"t":3806,"v":-10},{"t":3818,"v":-28.7},{"t":3831,"v":-7.1},{"t":3844,"v":23},{"t":3862,"v":0.1},{"t":3881,"v":-27.6},{"t":3894,"v":-7.1},{"t":3909,"v":27.7},{"t":3925,"v":-1.4},{"t":3941,"v":-17.5},{"t":3956,"v":7.3},{"t":3966,"v":24.1},{"t":3981,"v":7.3},{"t":3994,"v":-23.6},{"t":4000,"v":0.1},
{"t":437,"v":-2},{"t":475,"v":6},{"t":511,"v":-8},{"t":545,"v":4},{"t":581,"v":7},{"t":617,"v":-6},{"t":653,"v":9},{"t":689,"v":-9},{"t":725,"v":5},{"t":761,"v":-4},{"t":797,"v":8},{"t":833,"v":-7},{"t":869,"v":6},{"t":905,"v":3},{"t":941,"v":-8},{"t":977,"v":9},{"t":1013,"v":-5},{"t":1049,"v":7},{"t":1085,"v":-6},{"t":1121,"v":4},{"t":1157,"v":8},{"t":1193,"v":-9},{"t":1229,"v":6},{"t":1265,"v":-5},{"t":1301,"v":9},{"t":1337,"v":-7},{"t":1373,"v":5},{"t":1409,"v":8},{"t":1445,"v":-8},{"t":1481,"v":6},{"t":1517,"v":-4},{"t":1553,"v":9},{"t":1589,"v":-6},{"t":1625,"v":7},{"t":1661,"v":-9},{"t":1697,"v":8},{"t":1733,"v":-5},{"t":1769,"v":6},{"t":1805,"v":-7},{"t":1841,"v":9},{"t":1877,"v":5},{"t":1913,"v":-8},{"t":1949,"v":7},{"t":1985,"v":-6},{"t":2021,"v":9},{"t":2057,"v":-4},{"t":2093,"v":8},{"t":2129,"v":-9},{"t":2165,"v":6},{"t":2201,"v":-5},{"t":2237,"v":7},{"t":2273,"v":9},{"t":2309,"v":-8},{"t":2345,"v":5},{"t":2381,"v":-6},{"t":2417,"v":8},{"t":2453,"v":-7},{"t":2489,"v":9},{"t":2525,"v":-5},{"t":2561,"v":6},{"t":2597,"v":-9},{"t":2633,"v":7},{"t":2669,"v":8},{"t":2705,"v":-6},{"t":2741,"v":5},{"t":2777,"v":-8},{"t":2813,"v":9},{"t":2849,"v":-7},{"t":2885,"v":6},{"t":2921,"v":-4},{"t":2957,"v":8},{"t":2993,"v":-9},{"t":3029,"v":7},{"t":3065,"v":5},{"t":3101,"v":-6},{"t":3137,"v":9},{"t":3173,"v":-8},{"t":3209,"v":6},{"t":3245,"v":-5},{"t":3281,"v":7},{"t":3317,"v":9},{"t":3353,"v":-7},{"t":3389,"v":-8},{"t":3425,"v":6},{"t":3461,"v":8},{"t":3497,"v":-9},{"t":3533,"v":5},{"t":3569,"v":-6},{"t":3605,"v":9},{"t":3641,"v":-5},{"t":3677,"v":7},{"t":3713,"v":-8},{"t":3749,"v":6},{"t":3785,"v":9},{"t":3821,"v":-7},{"t":3857,"v":8},{"t":3893,"v":-6},{"t":3929,"v":5},{"t":3965,"v":-9}]
},
"hconcat":[
{"width":981,"height":984,"data":{"name":"a"},
 "title":{"text":"(a)","orient":"bottom","anchor":"middle","dx":-82,"offset":118,"baseline":"top"},
 "layer":[
  {"mark":{"type":"line","color":"#0000ff","strokeWidth":3,"clip":true},
   "encoding":{
    "x":{"field":"t","type":"quantitative","scale":{"domain":[0,100],"nice":false,"zero":false},"axis":{"orient":"bottom","title":"t","values":[0,20,40,60,80,100],"labelPadding":28,"titlePadding":8}},
    "y":{"field":"v","type":"quantitative","scale":{"domain":[-25,25],"nice":false,"zero":false},"axis":{"orient":"left","title":"x","values":[-25,-20,-15,-10,-5,0,5,10,15,20,25],"labelPadding":24,"titlePadding":0}}}},
  {"mark":{"type":"line","opacity":0},
   "encoding":{
    "x":{"field":"t","type":"quantitative","scale":{"domain":[0,100],"nice":false,"zero":false},"axis":{"orient":"top","title":null,"labels":false,"domain":false,"values":[0,20,40,60,80,100]}},
    "y":{"field":"v","type":"quantitative","scale":{"domain":[-25,25],"nice":false,"zero":false},"axis":{"orient":"right","title":null,"labels":false,"domain":false,"values":[-25,-20,-15,-10,-5,0,5,10,15,20,25]}}}}
 ],
 "resolve":{"axis":{"x":"independent","y":"independent"}}},
{"width":981,"height":984,"data":{"name":"b"},
 "title":{"text":"(b)","orient":"bottom","anchor":"middle","dx":-16,"offset":118,"baseline":"top"},
 "layer":[
  {"mark":{"type":"line","color":"#0000ff","strokeWidth":3,"clip":true},
   "encoding":{
    "x":{"field":"t","type":"quantitative","scale":{"domain":[0,100],"nice":false,"zero":false},"axis":{"orient":"bottom","title":"t","values":[0,20,40,60,80,100],"labelPadding":28,"titlePadding":8}},
    "y":{"field":"v","type":"quantitative","scale":{"domain":[-25,25],"nice":false,"zero":false},"axis":{"orient":"left","title":"x₁","values":[-25,-20,-15,-10,-5,0,5,10,15,20,25],"labelPadding":24,"titlePadding":0}}}},
  {"mark":{"type":"line","opacity":0},
   "encoding":{
    "x":{"field":"t","type":"quantitative","scale":{"domain":[0,100],"nice":false,"zero":false},"axis":{"orient":"top","title":null,"labels":false,"domain":false,"values":[0,20,40,60,80,100]}},
    "y":{"field":"v","type":"quantitative","scale":{"domain":[-25,25],"nice":false,"zero":false},"axis":{"orient":"right","title":null,"labels":false,"domain":false,"values":[-25,-20,-15,-10,-5,0,5,10,15,20,25]}}}}
 ],
 "resolve":{"axis":{"x":"independent","y":"independent"}}},
{"width":981,"height":984,"data":{"name":"c"},
 "title":{"text":"(c)","orient":"bottom","anchor":"middle","dx":49,"offset":118,"baseline":"top"},
 "layer":[
  {"mark":{"type":"line","color":"#0000ff","strokeWidth":3,"clip":true},
   "encoding":{
    "x":{"field":"t","type":"quantitative","scale":{"domain":[0,4000],"nice":false,"zero":false},"axis":{"orient":"bottom","title":"t","values":[0,1000,2000,3000,4000],"format":"d","labelPadding":28,"titlePadding":8}},
    "y":{"field":"v","type":"quantitative","scale":{"domain":[-40,40],"nice":false,"zero":false},"axis":{"orient":"left","title":"x₁-x","values":[-40,-30,-20,-10,0,10,20,30,40],"labelPadding":24,"titlePadding":0}}}},
  {"mark":{"type":"line","opacity":0},
   "encoding":{
    "x":{"field":"t","type":"quantitative","scale":{"domain":[0,4000],"nice":false,"zero":false},"axis":{"orient":"top","title":null,"labels":false,"domain":false,"values":[0,1000,2000,3000,4000]}},
    "y":{"field":"v","type":"quantitative","scale":{"domain":[-40,40],"nice":false,"zero":false},"axis":{"orient":"right","title":null,"labels":false,"domain":false,"values":[-40,-30,-20,-10,0,10,20,30,40]}}}}
 ],
 "resolve":{"axis":{"x":"independent","y":"independent"}}}
]
}
